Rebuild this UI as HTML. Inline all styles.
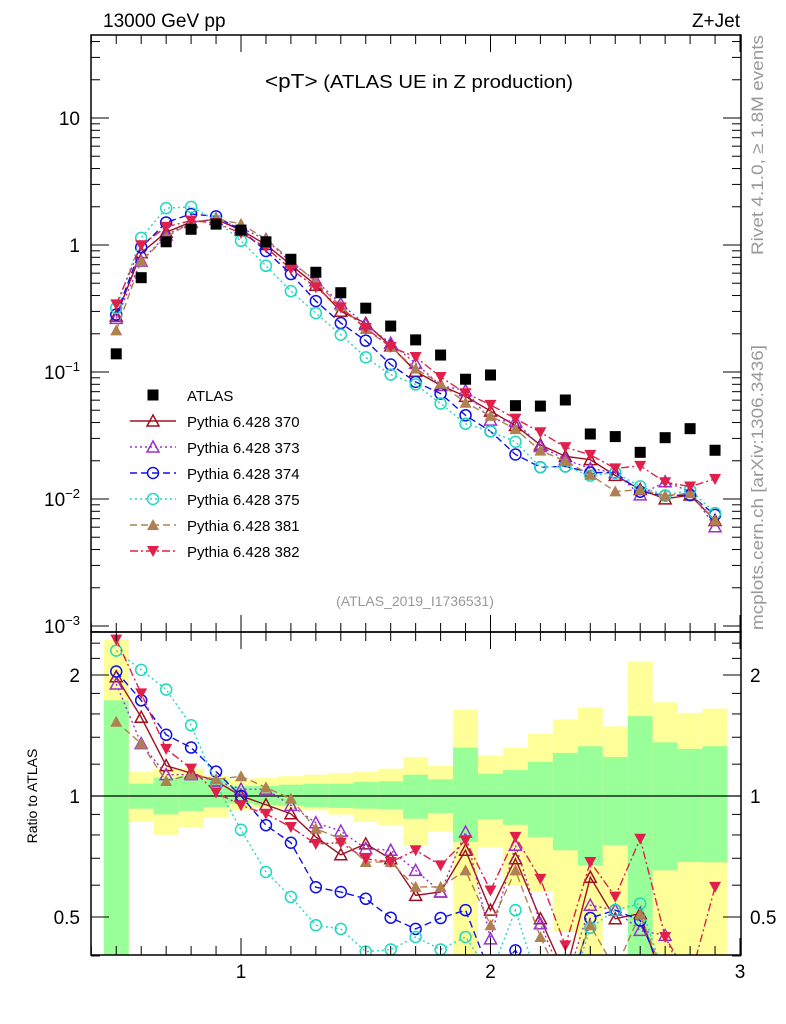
<!DOCTYPE html>
<html><head><meta charset="utf-8"><style>
html,body{margin:0;padding:0;background:#fff;}
svg{display:block;font-family:"Liberation Sans",sans-serif;}
</style></head><body>
<svg id="chart" width="786" height="1024" viewBox="0 0 786 1024">
<defs>
<clipPath id="clipMain"><rect x="91" y="35" width="650" height="597"/></clipPath>
<clipPath id="clipRatio"><rect x="91" y="632" width="650" height="323"/></clipPath>
</defs>
<g id="bands" clip-path="url(#clipRatio)"></g>
<g id="ratioG" clip-path="url(#clipRatio)"></g>
<g id="mainG" clip-path="url(#clipMain)"></g>
<g id="axes"></g>
<text x="103" y="27" font-size="19">13000 GeV pp</text>
<text x="740" y="27" font-size="19" text-anchor="end">Z+Jet</text>
<text x="265" y="88" font-size="18" textLength="308" lengthAdjust="spacingAndGlyphs"><tspan font-size="20">&lt;pT&gt;</tspan> (ATLAS UE in Z production)</text>
<text x="415" y="606" font-size="14" fill="#999" text-anchor="middle">(ATLAS_2019_I1736531)</text>
<text transform="translate(763,255) rotate(-90)" font-size="17" fill="#999" textLength="220" lengthAdjust="spacingAndGlyphs">Rivet 4.1.0, ≥ 1.8M events</text>
<text transform="translate(763,630) rotate(-90)" font-size="17" fill="#999" textLength="285" lengthAdjust="spacingAndGlyphs">mcplots.cern.ch [arXiv:1306.3436]</text>
<text transform="translate(37,796) rotate(-90)" font-size="14" text-anchor="middle">Ratio to ATLAS</text>
<g id="legend"></g>
</svg>
<script>
const xCenters=[0.5,0.6,0.7,0.8,0.9,1.0,1.1,1.2,1.3,1.4,1.5,1.6,1.7,1.8,1.9,2.0,2.1,2.2,2.3,2.4,2.5,2.6,2.7,2.8,2.9];
const atlas=[0.139,0.553,1.06,1.33,1.46,1.31,1.06,0.772,0.61,0.421,0.318,0.230,0.179,0.136,0.0877,0.0947,0.0543,0.0539,0.0602,0.0325,0.031,0.0233,0.0304,0.0358,0.0242];
const r370=[1.98,1.57,1.19,1.14,1.09,1.0,0.951,0.903,0.791,0.714,0.760,0.698,0.566,0.577,0.733,0.520,0.698,0.495,0.36,0.628,0.495,0.510,0.33,0.30,0.28];
const r373=[1.90,1.35,1.13,1.13,1.09,1.04,1.04,0.948,0.858,0.818,0.740,0.733,0.653,0.577,0.813,0.441,0.754,0.481,0.34,0.535,0.52,0.463,0.45,0.32,0.25];
const r374=[2.04,1.73,1.42,1.32,1.15,1.0,0.846,0.765,0.593,0.577,0.555,0.498,0.467,0.497,0.520,0.36,0.413,0.33,0.30,0.497,0.52,0.49,0.35,0.30,0.31];
const r375=[2.30,2.06,1.84,1.50,1.07,0.824,0.647,0.561,0.477,0.467,0.41,0.415,0.446,0.415,0.446,0.36,0.52,0.33,0.30,0.47,0.52,0.54,0.35,0.33,0.32];
const r381=[1.53,1.35,1.09,1.13,1.10,1.12,1.05,0.985,0.829,0.783,0.685,0.685,0.594,0.594,0.653,0.477,0.653,0.446,0.33,0.477,0.37,0.508,0.35,0.31,0.28];
const r382=[2.45,1.80,1.31,1.17,1.02,0.948,0.903,0.837,0.760,0.765,0.698,0.685,0.733,0.672,0.776,0.582,0.791,0.622,0.425,0.685,0.562,0.783,0.446,0.35,0.594];
const yelHi=[2.45,1.147,1.17,1.17,1.126,1.10,1.11,1.12,1.13,1.14,1.15,1.17,1.25,1.19,1.64,1.26,1.32,1.43,1.55,1.66,1.49,2.16,1.71,1.61,1.65];
const yelLo=[0.30,0.862,0.801,0.837,0.883,0.921,0.934,0.930,0.921,0.899,0.862,0.846,0.754,0.817,0.30,0.746,0.60,0.577,0.459,0.30,0.52,0.30,0.30,0.30,0.30];
const grnHi=[1.73,1.073,1.11,1.12,1.10,1.059,1.059,1.067,1.072,1.073,1.083,1.088,1.13,1.10,1.32,1.136,1.16,1.215,1.28,1.33,1.25,1.58,1.36,1.31,1.33];
const grnLo=[0.30,0.930,0.900,0.918,0.939,0.957,0.948,0.945,0.939,0.934,0.930,0.927,0.878,0.907,0.768,0.875,0.848,0.791,0.733,0.672,0.754,0.30,0.653,0.685,0.684];
const mainTicks=["10","1"];
const ratioTicks=[2,1,0.5];
const xTicks=[1,2,3];

const NS="http://www.w3.org/2000/svg";
function X(v){return 241+(v-1)*249.5;}
function Y(v){return 245-Math.log10(v)*127;}
function R(v){return 796-Math.log2(v)*121;}
function mk(tag,attrs,parent){const e=document.createElementNS(NS,tag);for(const k in attrs)e.setAttribute(k,attrs[k]);parent.appendChild(e);return e;}

const series=[
 {n:"370",r:r370,c:"#a01020",dash:"",m:"tri-open"},
 {n:"373",r:r373,c:"#9b30d0",dash:"2,3",m:"tri-open"},
 {n:"374",r:r374,c:"#1010e8",dash:"7,4",m:"circ"},
 {n:"375",r:r375,c:"#20d8c0",dash:"2,3",m:"circ"},
 {n:"381",r:r381,c:"#b08050",dash:"7,4",m:"tri-fill"},
 {n:"382",r:r382,c:"#e0204a",dash:"8,3,2,3",m:"tri-down"}
];
function marker(g,type,x,y,c){
 let e;
 if(type==="tri-open") e=mk("polygon",{points:`${x},${y-6} ${x-6},${y+5} ${x+6},${y+5}`,fill:"none",stroke:c,"stroke-width":1.5},g);
 else if(type==="tri-fill") e=mk("polygon",{points:`${x},${y-6} ${x-6},${y+5} ${x+6},${y+5}`,fill:c},g);
 else if(type==="tri-down") e=mk("polygon",{points:`${x},${y+6} ${x-6},${y-5} ${x+6},${y-5}`,fill:c},g);
 else if(type==="circ") e=mk("circle",{cx:x,cy:y,r:5.5,fill:"none",stroke:c,"stroke-width":1.5},g);
 else e=mk("rect",{x:x-5.5,y:y-5.5,width:11,height:11,fill:"#000"},g);
 
 
 return e;
}
const bands=document.getElementById('bands');
xCenters.forEach((c,i)=>{
 const x0=X(c-0.05),x1=X(c+0.05);
 const y=mk("rect",{x:x0,y:R(yelHi[i]),width:x1-x0,height:R(yelLo[i])-R(yelHi[i]),fill:"#ffff99"},bands);
 
 
 const g=mk("rect",{x:x0,y:R(grnHi[i]),width:x1-x0,height:R(grnLo[i])-R(grnHi[i]),fill:"#99ff99"},bands);
 
 
});
const ratioG=document.getElementById('ratioG');
const one=mk("line",{x1:91,x2:741,y1:R(1),y2:R(1),stroke:"#000","stroke-width":1.3},ratioG);


const mainG=document.getElementById('mainG');
series.forEach(s=>{
 const mv=s.r.map((r,i)=>r*atlas[i]);
 const pm=xCenters.map((c,i)=>X(c)+","+Y(mv[i])).join(" ");
 const pr=xCenters.map((c,i)=>X(c)+","+R(s.r[i])).join(" ");
 const l1=mk("polyline",{points:pm,fill:"none",stroke:s.c,"stroke-width":1.4,"stroke-dasharray":s.dash},mainG);
 
 
 const l2=mk("polyline",{points:pr,fill:"none",stroke:s.c,"stroke-width":1.4,"stroke-dasharray":s.dash},ratioG);
 
 
 xCenters.forEach((c,i)=>{marker(mainG,s.m,X(c),Y(mv[i]),s.c);marker(ratioG,s.m,X(c),R(s.r[i]),s.c);});
});
xCenters.forEach((c,i)=>marker(mainG,"sq",X(c),Y(atlas[i]),"#000"));

const ax=document.getElementById('axes');
function ln(x1,y1,x2,y2,w){const e=mk("line",{x1,y1,x2,y2,stroke:"#000","stroke-width":w||1},ax);return e;}
const f1=mk("rect",{x:91,y:35,width:650,height:597,fill:"none",stroke:"#000","stroke-width":1.5},ax);


const f2=mk("rect",{x:91,y:632,width:650,height:323,fill:"none",stroke:"#000","stroke-width":1.5},ax);


for(let v=0.4;v<=3.001;v+=0.1){const x=X(v);const maj=Math.abs(v-Math.round(v))<0.01;const L=maj?17:9;
 ln(x,35,x,35+L);ln(x,632,x,632-L);ln(x,632,x,632+L);ln(x,955,x,955-L);}
for(let d=-4;d<=1;d++){for(let m=1;m<10;m++){const v=m*Math.pow(10,d);const y=Y(v);if(y<35||y>632)continue;const L=m===1?18:9;ln(91,y,91+L,y);ln(741,y,741-L,y);}}
[0.4,0.5,0.6,0.7,0.8,0.9,1,1.2,1.4,1.6,1.8,2,2.2,2.4].forEach(v=>{const y=R(v);const maj=(v===0.5||v===1||v===2);const L=maj?18:9;ln(91,y,91+L,y);ln(741,y,741-L,y);});
function tx(x,y,s,fs,anchor,name){const e=mk("text",{x,y,"font-size":fs,"text-anchor":anchor||"end"},ax);e.textContent=s;return e;}
tx(80,125,mainTicks[0],19,"end","y-tick-label");
tx(80,252,mainTicks[1],19,"end","y-tick-label");
[[-1,372],[-2,499],[-3,626]].forEach(([p,y])=>{const e=tx(80,y+7,"",19,"end","y-tick-label");e.innerHTML='10<tspan font-size="13" dy="-8">−'+(-p)+'</tspan>';});
ratioTicks.forEach(v=>{tx(80,R(v)+7,String(v),19,"end","ratio-tick-label");tx(750,R(v)+7,String(v),19,"start","ratio-tick-label-right");});
xTicks.forEach(v=>tx(X(v),978,String(v),19,"middle","x-tick-label"));

const lg=document.getElementById('legend');
const le0=mk("g",{},lg);


marker(le0,"sq",153,395,"#000");
const t0=mk("text",{x:187,y:401,"font-size":15},le0);t0.textContent="ATLAS";
series.forEach((s,i)=>{const y=421+i*26;const g=mk("g",{},lg);
 
 
 mk("line",{x1:130,x2:176,y1:y,y2:y,stroke:s.c,"stroke-width":1.4,"stroke-dasharray":s.dash},g);
 marker(g,s.m,153,y,s.c);
 const t=mk("text",{x:187,y:y+6,"font-size":15},g);t.textContent="Pythia 6.428 "+s.n;});
</script>
</body></html>
